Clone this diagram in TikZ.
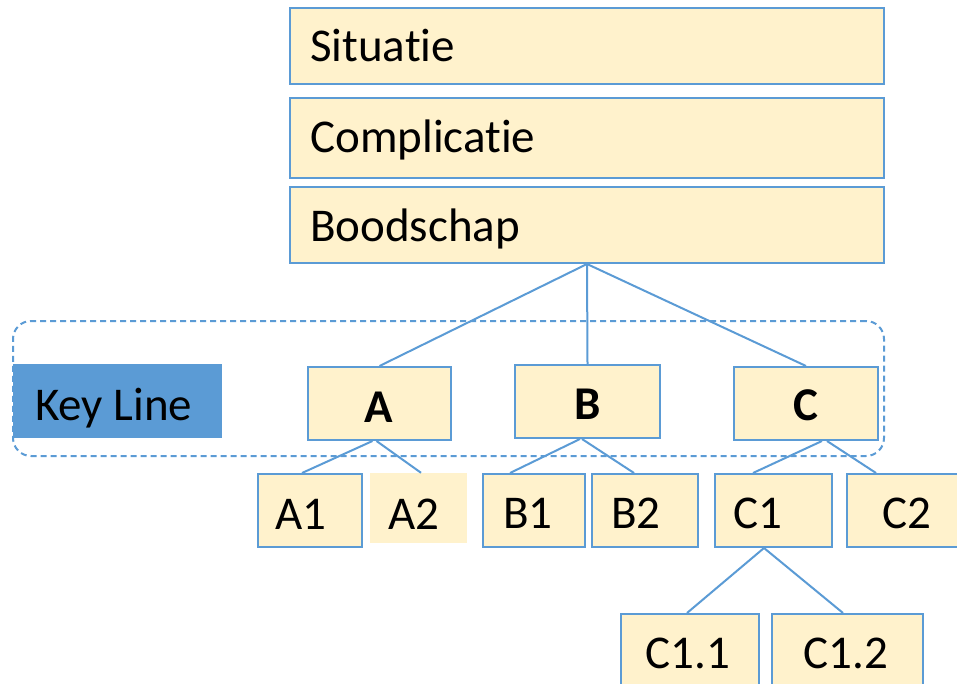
\documentclass[tikz,border=0pt]{standalone}
\usepackage{fontspec}
\setmainfont{Carlito}[RawFeature={-liga;-clig;-dlig;-rlig;-calt}]
\definecolor{boxfill}{HTML}{FFF2CC}
\definecolor{edge}{HTML}{5B9BD5}
\begin{document}
\begin{tikzpicture}[x=1pt,y=-1pt,
  box/.style={draw=edge, line width=2pt, fill=boxfill, inner sep=0pt},
  txt/.style={font=\fontsize{47}{56}\selectfont, inner sep=0pt, anchor=base},
  link/.style={draw=edge, line width=2pt}]
\useasboundingbox (0,0) rectangle (957,684);
\clip (0,0) rectangle (957,684);

% storyline boxes
\node[box, minimum width=594pt, minimum height=76pt] (sit) at (587,46) {};
\node[box, minimum width=594pt, minimum height=80pt] (comp) at (587,138) {};
\node[box, minimum width=594pt, minimum height=76pt] (bood) at (587,225) {};
\node[txt, anchor=base west] (sitt) at (310,62) {Situat\kern0pt ie};
\node[txt, anchor=base west] (compt) at (310,153) {Complicat\kern0pt ie};
\node[txt, anchor=base west] (boodt) at (310,242) {Boodschap};

% key line frame
\node[draw=edge, line width=2pt, dashed, dash pattern=on 6pt off 4pt,
      rounded corners=18pt, minimum width=871pt, minimum height=135pt,
      inner sep=0pt] (frame) at (448.5,388.5) {};
\node[fill=edge, inner sep=0pt, minimum width=209pt, minimum height=74pt] (key) at (117.5,401) {};
\node[txt, anchor=base west] (keyt) at (35,420) {Key Line};

% key line boxes
\node[box, minimum width=143pt, minimum height=73pt] (a) at (379.5,403.5) {};
\node[box, minimum width=145pt, minimum height=73pt] (b) at (587.5,401.5) {};
\node[box, minimum width=144pt, minimum height=73pt] (c) at (806,403.5) {};
\node[txt, font=\fontsize{47}{56}\selectfont\bfseries] (at) at (379,422) {A};
\node[txt, font=\fontsize{47}{56}\selectfont\bfseries] (bt) at (588,419) {B};
\node[txt, font=\fontsize{47}{56}\selectfont\bfseries] (ct) at (806,420) {C};

% supporting boxes
\node[box, minimum width=104pt, minimum height=73pt] (a1) at (310,510.5) {};
\node[fill=boxfill, inner sep=0pt, minimum width=97pt, minimum height=70pt] (a2) at (418.5,508) {};
\node[box, minimum width=102pt, minimum height=73pt] (b1) at (534,510.5) {};
\node[box, minimum width=106pt, minimum height=73pt] (b2) at (645,510.5) {};
\node[box, minimum width=117pt, minimum height=73pt] (c1) at (773.5,510.5) {};
\node[box, minimum width=115pt, minimum height=73pt] (c2) at (904.5,510.5) {};
\node[box, minimum width=138pt, minimum height=76pt] (c11) at (690,652) {};
\node[box, minimum width=151pt, minimum height=76pt] (c12) at (847.5,652) {};

\node[txt] (a1t) at (301,529) {A1};
\node[txt] (a2t) at (414,529) {A2};
\node[txt] (b1t) at (528,528) {B1};
\node[txt] (b2t) at (636,528) {B2};
\node[txt] (c1t) at (758,528) {C1};
\node[txt] (c2t) at (907,528) {C2};
\node[txt] (c11t) at (688,668) {C1.1};
\node[txt] (c12t) at (846,668) {C1.2};

% connectors
\draw[link] (bood.south) -- (a.north);
\draw[link] (bood.south) -- (b.north);
\draw[link] (bood.south) -- (c.north);
\draw[link] ([xshift=-7pt]a.south) -- ([xshift=-8pt]a1.north);
\draw[link] ([xshift=-3pt]a.south) -- ([xshift=2.5pt]a2.north);
\draw[link] ([xshift=-7.5pt]b.south) -- ([xshift=-24pt]b1.north);
\draw[link] ([xshift=-5.5pt]b.south) -- ([xshift=-11pt]b2.north);
\draw[link] ([xshift=16pt]c.south) -- ([xshift=-20.5pt]c1.north);
\draw[link] ([xshift=21pt]c.south) -- ([xshift=-28.5pt]c2.north);
\draw[link] ([xshift=-9.5pt]c1.south) -- ([xshift=-3pt]c11.north);
\draw[link] ([xshift=-9.5pt]c1.south) -- ([xshift=-4.5pt]c12.north);
\end{tikzpicture}
\end{document}
